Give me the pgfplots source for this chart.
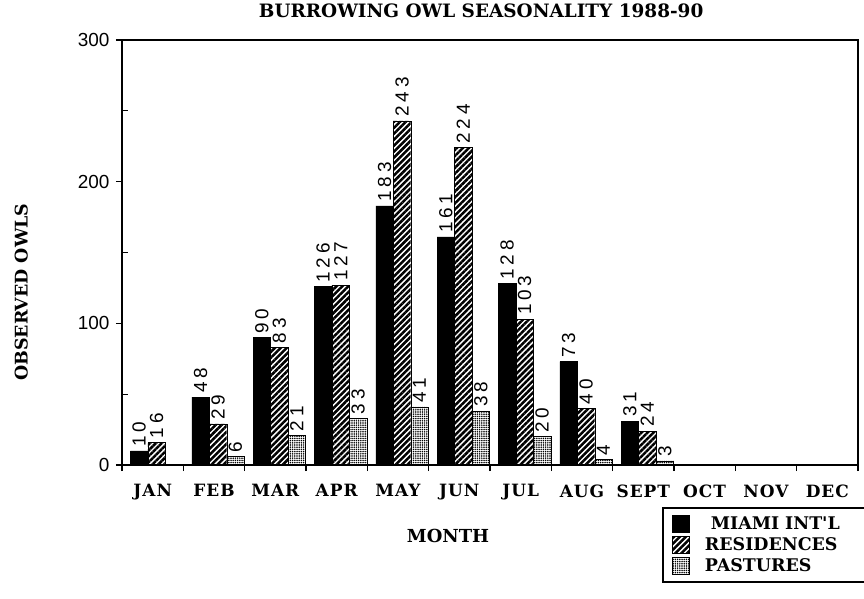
\documentclass[border=0pt]{standalone}
\usepackage{fontspec}
\usepackage{pgfplots}
\pgfplotsset{compat=1.18}
\usetikzlibrary{patterns.meta}
\newfontfamily\ls{Liberation Sans}
\newfontfamily\lsw{Liberation Sans}[LetterSpace=20]
\newfontfamily\sbf{DejaVu Serif Bold}
\newfontfamily\sbfw{DejaVu Serif Bold}[LetterSpace=6]
\begin{document}
\begin{tikzpicture}
\begin{axis}[
  scale only axis, width=736bp, height=425bp,
  xmin=-0.5, xmax=11.5, ymin=0, ymax=300,
  axis line style={line width=1.6bp},
  xtick={0,...,11},
  xticklabels={JAN,FEB,MAR,APR,MAY,JUN,JUL,AUG,SEPT,OCT,NOV,DEC},
  minor xtick={-0.5,0.5,...,11.5},
  ytick={0,100,200,300},
  minor ytick={50,150,250},
  tick align=outside,
  major tick length=6bp, minor tick length=6bp,
  x tick style={draw=none},
  minor x tick style={line width=1.4bp, draw=black},
  y tick style={line width=1.4bp, black},
  minor y tick style={line width=1bp, black, xshift=6bp},
  xtick pos=bottom, ytick pos=left,
  /pgf/number format/assume math mode=true,
  yticklabel style={font=\fontsize{19}{19}\ls, xshift=-3bp},
  xticklabel style={font=\fontsize{17}{18}\sbfw, yshift=-10bp},
  title={BURROWING OWL SEASONALITY 1988-90},
  title style={font=\fontsize{18.5}{19}\sbf, at={(0.488,1)}, anchor=base, yshift=17bp},
  xlabel={MONTH},
  xlabel style={font=\fontsize{18}{19}\sbf, at={(0.443,0)}, anchor=base, yshift=-77bp},
  ylabel={OBSERVED OWLS},
  ylabel style={font=\fontsize{17.5}{18}\sbf, at={(-0.137,0.407)}, anchor=center},
  ybar, bar width=0.285,
  nodes near coords,
  every node near coord/.append style={font=\fontsize{19}{19}\lsw, rotate=90, anchor=west, inner sep=4bp},
  legend style={at={(0.7337,-0.0988)}, anchor=north west, draw=black, line width=1.6bp,
    font=\fontsize{17.5}{18}\sbf, row sep=3bp, inner xsep=9bp, inner ysep=7bp,
    nodes={inner sep=1.5bp},
    cells={anchor=west, text width=170bp, align=left}},
  legend image code/.code={\draw[#1, line width=0.6bp] (0bp,-9bp) rectangle (17bp,8bp);},
]
\addplot[bar shift=-0.22, fill=black, draw=black] coordinates {(0,10) (1,48) (2,90) (3,126) (4,183) (5,161) (6,128) (7,73) (8,31)};
\addplot[bar shift=0.065, draw=black, pattern={Lines[angle=45,distance=4.2bp,line width=2.5bp]}, pattern color=black] coordinates {(0,16) (1,29) (2,83) (3,127) (4,243) (5,224) (6,103) (7,40) (8,24)};
\addplot[bar shift=0.35, draw=black, pattern={Dots[distance=2.2bp,radius=0.85bp]}, pattern color=black] coordinates {(1,6) (2,21) (3,33) (4,41) (5,38) (6,20) (7,4) (8,3)};
\legend{\hspace{20bp}MIAMI INT'L, \hspace{14bp}RESIDENCES, \hspace{14bp}PASTURES}
\end{axis}
\pgfresetboundingbox
\path[use as bounding box] ([shift={(-122bp,-134bp)}]current axis.south west) rectangle ([shift={(6bp,40bp)}]current axis.north east);
\end{tikzpicture}
\end{document}
